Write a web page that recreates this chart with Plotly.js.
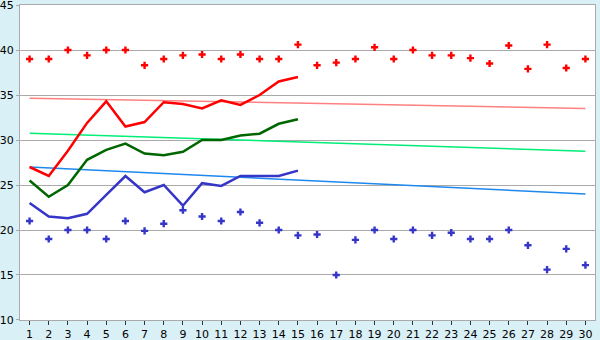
<!DOCTYPE html>
<html><head><meta charset="utf-8">
<script src="https://cdn.plot.ly/plotly-3.0.1.min.js"></script>
<style>html,body{margin:0;padding:0;background:#d9f0f7;}#c{width:600px;height:340px;}</style>
</head><body><div id="c"></div>
<script>
var days = [1,2,3,4,5,6,7,8,9,10,11,12,13,14,15,16,17,18,19,20,21,22,23,24,25,26,27,28,29,30];
var lineDays = [1,2,3,4,5,6,7,8,9,10,11,12,13,14,15];
var highPts = [39,39,40,39.4,40,40,38.3,39,39.4,39.5,39,39.5,39,39,40.6,38.3,38.6,39,40.3,39,40,39.4,39.4,39.1,38.5,40.5,37.9,40.6,38,39];
var lowPts = [21,19,20,20,19,21,19.9,20.7,22.2,21.5,21,22,20.8,20,19.4,19.5,15,18.9,20,19,20,19.4,19.7,19,19,20,18.3,15.6,17.9,16.1];
var redLine = [27,26,28.8,31.9,34.3,31.5,32,34.2,34,33.5,34.4,33.9,35,36.5,37];
var greenLine = [25.5,23.7,25,27.8,28.9,29.6,28.5,28.3,28.7,30,30,30.5,30.7,31.8,32.3];
var blueLine = [23,21.5,21.3,21.8,23.9,26,24.2,25,22.7,25.2,24.9,26,26,26,26.6];
var trendDays = [1,30];
var trendHigh = [34.65,33.5];
var trendMid = [30.75,28.75];
var trendLow = [27,24];
var yTicks = [10,15,20,25,30,35,40,45];

var traces = [
 {x:trendDays,y:trendHigh,mode:'lines',line:{color:'#ff8080',width:1.5},hoverinfo:'skip'},
 {x:trendDays,y:trendMid,mode:'lines',line:{color:'#00ee77',width:1.5},hoverinfo:'skip'},
 {x:trendDays,y:trendLow,mode:'lines',line:{color:'#1e88ee',width:1.5},hoverinfo:'skip'},
 {x:lineDays,y:redLine,mode:'lines',line:{color:'#ff0000',width:2.5}},
 {x:lineDays,y:greenLine,mode:'lines',line:{color:'#006600',width:2.5}},
 {x:lineDays,y:blueLine,mode:'lines',line:{color:'#3535c8',width:2.5}},
 {x:days,y:highPts,mode:'markers',marker:{symbol:'cross',size:6,color:'#ff0000',line:{width:0}}},
 {x:days,y:lowPts,mode:'markers',marker:{symbol:'cross',size:6,color:'#3535c8',line:{width:0}}}
];
var layout = {
 width:600,height:340,
 margin:{l:20,r:5,t:5,b:20,pad:0},
 paper_bgcolor:'#d9f0f7',plot_bgcolor:'#ffffff',
 showlegend:false,
 font:{family:'DejaVu Sans, Verdana, sans-serif',size:11,color:'#000'},
 xaxis:{range:[0.5,30.5],tickvals:days,ticktext:days.map(String),showgrid:false,zeroline:false,
  showline:true,linecolor:'#aaaaaa',linewidth:1,mirror:true,ticks:'outside',ticklen:4,tickcolor:'#333',
  tickfont:{size:11}},
 yaxis:{range:[9.999,45.001],tickvals:yTicks,ticktext:yTicks.map(String),showgrid:true,gridcolor:'#aaaaaa',gridwidth:1,
  zeroline:false,showline:true,linecolor:'#aaaaaa',linewidth:1,mirror:true,ticks:'outside',ticklen:3,tickcolor:'#aaaaaa',
  ticklabeloverflow:'allow',tickfont:{size:11}}
};
Plotly.newPlot('c',traces,layout,{staticPlot:true,displayModeBar:false});
</script></body></html>
